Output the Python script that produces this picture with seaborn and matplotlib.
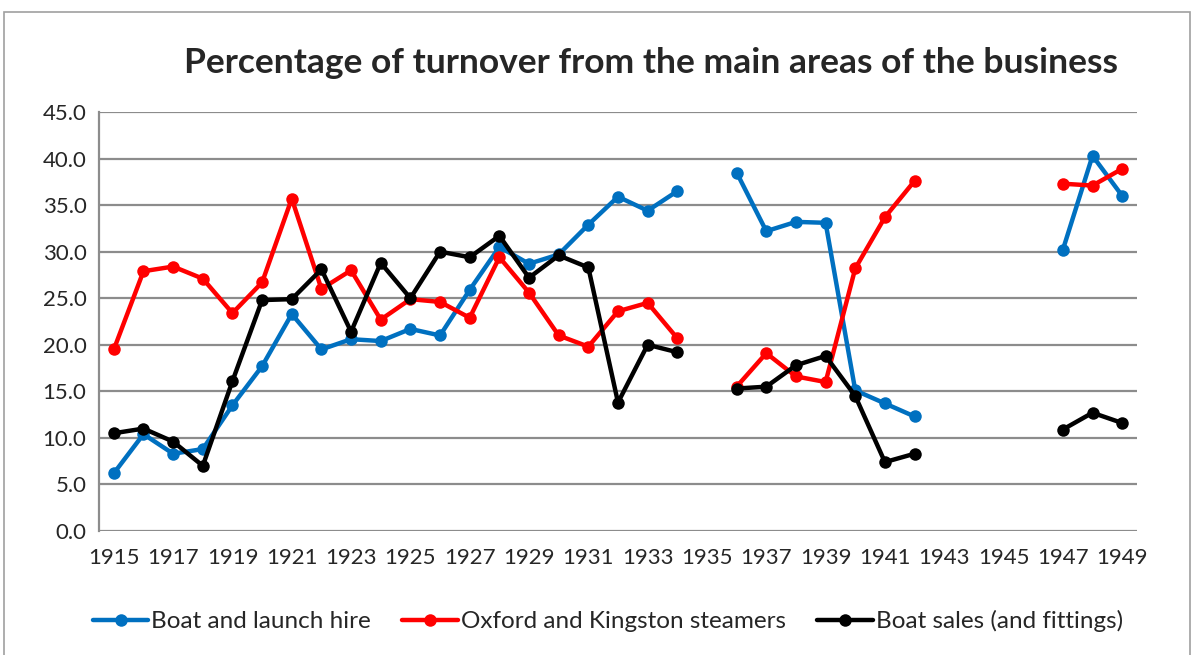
import numpy as np
import pandas as pd
import matplotlib.pyplot as plt
import seaborn as sns
from matplotlib.patches import Rectangle

# =========================
# dados
# =========================
anos = list(range(1915, 1950))

nan = np.nan

boat_hire = [6.2, 10.4, 8.3, 8.8, 13.5, 17.7, 23.3, 19.5, 20.6, 20.4,
             21.7, 21.0, 25.9, 30.5, 28.7, 29.7, 32.9, 35.9, 34.4, 36.5,
             nan, 38.5, 32.2, 33.2, 33.1, 15.1, 13.7, 12.3,
             nan, nan, nan, nan, 30.2, 40.3, 36.0]

steamers = [19.5, 27.9, 28.4, 27.1, 23.4, 26.7, 35.7, 26.0, 28.0, 22.7,
            24.9, 24.6, 22.9, 29.4, 25.6, 21.0, 19.8, 23.6, 24.5, 20.7,
            nan, 15.5, 19.1, 16.6, 16.0, 28.2, 33.7, 37.6,
            nan, nan, nan, nan, 37.3, 37.1, 38.9]

boat_sales = [10.5, 11.0, 9.6, 7.0, 16.1, 24.8, 24.9, 28.1, 21.4, 28.8,
              25.0, 30.0, 29.4, 31.7, 27.2, 29.6, 28.3, 13.8, 20.0, 19.2,
              nan, 15.3, 15.5, 17.8, 18.8, 14.5, 7.4, 8.3,
              nan, nan, nan, nan, 10.9, 12.7, 11.6]

series_names = ["Boat and launch hire", "Oxford and Kingston steamers", "Boat sales (and fittings)"]
cores = ["#0070C0", "#FF0000", "#000000"]

# =========================
# tabela longa, com segmentos para manter as lacunas
# =========================
linhas = []
for nome, valores in zip(series_names, [boat_hire, steamers, boat_sales]):
    seg = 0
    for ano, v in zip(anos, valores):
        if pd.isna(v):
            seg += 1
            continue
        linhas.append({"ano": ano, "valor": v, "serie": nome, "segmento": seg})
df = pd.DataFrame(linhas)

# =========================
# gráfico
# =========================
sns.set_style("white")
plt.rcParams["font.family"] = ["Lato", "DejaVu Sans"]

fig = plt.figure(figsize=(11.94, 6.55), dpi=100)
ax = fig.add_axes([99 / 1194, 1 - 531 / 655, (1137 - 99) / 1194, (531 - 112) / 655])

sns.lineplot(
    data=df,
    x="ano",
    y="valor",
    hue="serie",
    units="segmento",
    estimator=None,
    palette=cores,
    hue_order=series_names,
    marker="o",
    markersize=9,
    markeredgewidth=0,
    linewidth=3.2,
    ax=ax,
    zorder=3,
)

ax.set_xlim(1914.5, 1949.5)
ax.set_ylim(0, 45)
ax.set_yticks(np.arange(0, 46, 5))
ax.set_yticklabels([f"{v:.1f}" for v in np.arange(0, 46, 5)], fontsize=16)
ax.set_xticks(anos[::2])
ax.set_xticklabels([str(a) for a in anos[::2]], fontsize=16)
ax.set_xlabel("")
ax.set_ylabel("")

ax.grid(axis="y", color="#8c8c8c", linewidth=1.6)
ax.set_axisbelow(True)
for lado in ["top", "right", "bottom"]:
    ax.spines[lado].set_visible(False)
ax.spines["left"].set_color("#8c8c8c")
ax.spines["left"].set_linewidth(1.6)
ax.tick_params(axis="y", length=0, pad=9)
ax.tick_params(axis="x", length=0, pad=12)

fig.text(0.545, 0.904, "Percentage of turnover from the main areas of the business",
         ha="center", va="center", fontsize=25.5, fontweight="bold")

handles, labels = ax.get_legend_handles_labels()
ax.legend(handles, labels, loc="center", bbox_to_anchor=(0.49, -0.215),
          ncol=3, frameon=False, fontsize=17.5, handlelength=2.3,
          handletextpad=0.1, columnspacing=1.3)

# moldura externa
fig.patches.append(Rectangle((4 / 1194, -0.05), 1186 / 1194, 1.05 - 12 / 655,
                             transform=fig.transFigure, fill=False,
                             edgecolor="#a0a0a0", linewidth=1.2))

fig.savefig("out.png", dpi=100)
